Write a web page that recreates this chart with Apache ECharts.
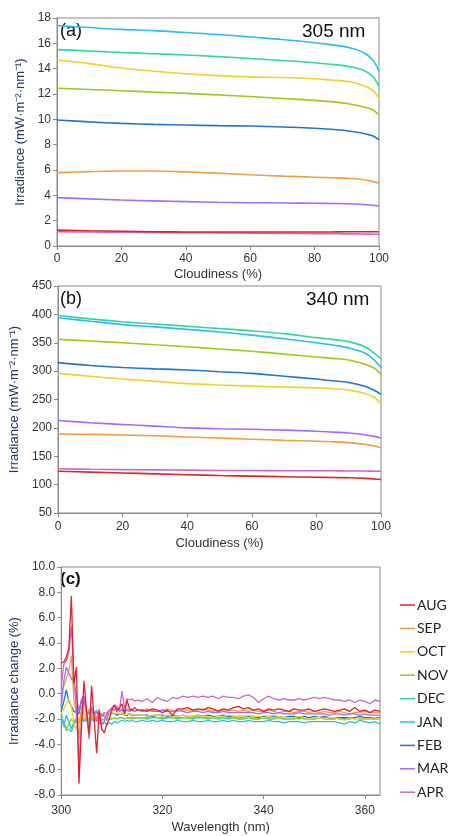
<!DOCTYPE html>
<html><head><meta charset="utf-8">
<script src="https://cdn.jsdelivr.net/npm/echarts@6/dist/echarts.min.js"></script>
<style>html,body{margin:0;padding:0;background:#fff}#c{width:449px;height:836px}</style>
</head><body><div id="c"></div>
<script>
// ---- Data ----
const months = ['AUG','SEP','OCT','NOV','DEC','JAN','FEB','MAR','APR'];
const colors = ['#e0202a','#f0a040','#f2d030','#99cc1a','#2ed6a0','#2ebcf0','#1e78c8','#a36bff','#cc66cc'];

const cloud = [0,10,20,30,40,50,60,70,80,85,90,95,98,100];

// Panel (a): 305 nm
const a_AUG = [1.25,1.2,1.16,1.13,1.11,1.1,1.1,1.1,1.11,1.11,1.12,1.12,1.13,1.13];
const a_SEP = [5.79,5.87,5.92,5.92,5.85,5.75,5.62,5.52,5.43,5.39,5.35,5.25,5.1,4.95];
const a_OCT = [14.68,14.4,14.05,13.8,13.6,13.45,13.35,13.3,13.2,13.1,13.0,12.7,12.3,11.65];
const a_NOV = [12.45,12.36,12.26,12.15,12.05,11.93,11.8,11.65,11.5,11.4,11.25,11.0,10.75,10.34];
const a_DEC = [15.5,15.4,15.28,15.18,15.08,14.95,14.8,14.65,14.47,14.35,14.2,13.9,13.4,12.6];
const a_JAN = [17.4,17.25,17.1,17.0,16.85,16.7,16.5,16.3,16.05,15.9,15.7,15.3,14.7,13.8];
const a_FEB = [9.95,9.8,9.68,9.6,9.55,9.5,9.47,9.4,9.3,9.22,9.1,8.9,8.7,8.37];
const a_MAR = [3.82,3.72,3.63,3.56,3.5,3.45,3.42,3.4,3.37,3.36,3.34,3.28,3.22,3.16];
const a_APR = [1.12,1.1,1.08,1.06,1.05,1.04,1.02,1.0,0.98,0.97,0.96,0.95,0.93,0.92];

// Panel (b): 340 nm
const b_AUG = [123.5,122,120.5,119,117.5,116,115,114,113,112.5,112,111,110,109];
const b_SEP = [189.5,188.5,187.5,186,184,182,180,178,176.5,175.5,174,171,168,165];
const b_OCT = [296,291,286,282,278,275.5,273.5,272,270.5,269,266.5,260.5,253.5,242];
const b_NOV = [356,353,350,346.5,343,339,335,330,325,322.5,319.5,312,305,294];
const b_DEC = [398,392,387,383,379,375,371,366,359,356,352,343,331,322];
const b_JAN = [394,388,382,378,373.5,369,363.5,357,350,346,341,332,319,306];
const b_FEB = [315,310,306.5,304,302,299,296,291,286,283,280,273.5,266,259];
const b_MAR = [213,209,206,203,200,198.5,197.5,196,194,192.5,191,188,185,182];
const b_APR = [128,127,126.5,126,125.5,125,125,124.5,124.5,124.5,124,124,123.5,123.5];

// Panel (c): irradiance change vs wavelength
const wl = [300,300.5,301,301.5,302,302.5,303,303.5,304,304.5,305,305.5,306,306.5,307,307.5,308,308.5,309,309.5,310,310.5,311,311.5,312,312.5,313,313.5,314,314.5,315,
316,317,318,319,320,321,322,323,324,325,326,327,328,329,330,331,332,333,334,335,336,337,338,339,340,341,342,343,344,345,346,347,348,349,350,351,352,353,354,355,356,357,358,359,360,361,362,363];

const c_AUG = [2.4,2.5,2.9,3.6,7.7,0.8,2.1,-7.1,-2.6,1.0,-1.4,-3.2,0.6,-2.0,-4.7,-1.4,-2.8,-3.1,-2.4,-2.0,-1.3,-0.9,-1.4,-1.1,-0.8,-1.6,-0.5,-1.2,-1.3,-1.1,-1.3,
-1.3,-1.4,-1.2,-1.3,-1.5,-1.3,-1.7,-1.2,-1.2,-1.1,
-1.3,-1.2,-1.3,-1.1,-1.2,-1.4,-1.2,-1.3,-1.1,-1.0,
-1.2,-1.1,-1.3,-1.2,-1.4,-1.2,-1.3,-1.2,-1.3,-1.4,
-1.2,-1.3,-1.3,-1.2,-1.4,-1.3,-1.2,-1.3,-1.4,-1.3,
-1.2,-1.4,-1.1,-1.4,-1.3,-1.5,-1.3,-1.4];
const c_SEP = [0.1,0.6,1.2,1.8,3.0,-0.6,-1.5,-3.6,-1.0,-1.6,-1.9,-1.2,-2.0,-1.5,-1.9,-1.4,-1.8,-1.6,-1.5,-1.3,-1.2,-1.3,-1.1,-1.3,-1.2,-1.4,-1.2,-1.3,-1.2,-1.4,-1.3,
-1.3,-1.2,-1.3,-1.4,-1.3,-1.2,-1.3,-1.4,-1.3,-1.3,
-1.4,-1.3,-1.2,-1.3,-1.4,-1.3,-1.3,-1.4,-1.3,-1.4,
-1.3,-1.4,-1.3,-1.4,-1.4,-1.3,-1.4,-1.5,-1.4,-1.4,
-1.5,-1.4,-1.4,-1.5,-1.4,-1.5,-1.4,-1.5,-1.5,-1.4,
-1.5,-1.6,-1.5,-1.5,-1.4,-1.5,-1.5,-1.5];
const c_OCT = [-1.6,-1.2,-0.8,-0.4,-1.0,-2.4,-2.8,-2.0,-1.4,-2.0,-1.6,-2.2,-1.8,-1.5,-2.0,-1.7,-1.6,-1.8,-1.5,-1.6,-1.4,-1.6,-1.5,-1.6,-1.5,-1.7,-1.6,-1.7,-1.6,-1.7,-1.7,
-1.7,-1.8,-1.7,-1.7,-1.8,-1.7,-1.8,-1.8,-1.7,-1.8,
-1.8,-1.7,-1.8,-1.8,-1.9,-1.8,-1.8,-1.7,-1.8,-1.8,
-1.8,-1.9,-1.8,-1.8,-1.9,-1.8,-1.9,-1.8,-1.9,-1.9,
-1.9,-1.8,-1.9,-2.0,-1.9,-1.9,-2.0,-1.9,-1.9,-2.0,
-2.1,-1.9,-2.0,-1.9,-2.0,-2.0,-1.9,-2.0];
const c_NOV = [-1.8,-2.2,-2.8,-2.4,-2.0,-2.3,-1.9,-2.1,-1.8,-2.0,-1.9,-2.1,-1.9,-2.0,-2.2,-1.9,-2.0,-2.1,-2.0,-1.9,-2.0,-1.9,-2.0,-1.9,-1.9,-2.0,-1.9,-1.9,-2.0,-1.9,-1.9,
-1.9,-1.9,-1.8,-1.9,-1.9,-1.9,-1.8,-1.9,-1.9,-1.9,
-1.9,-1.8,-1.9,-1.9,-1.9,-1.9,-1.8,-1.9,-1.9,-1.9,
-1.9,-1.9,-1.9,-2.0,-1.9,-1.9,-1.9,-1.9,-2.0,-1.9,
-1.9,-2.0,-1.9,-1.9,-2.0,-1.9,-1.9,-2.0,-1.9,-2.0,
-2.0,-1.9,-2.0,-1.9,-2.0,-2.0,-1.9,-2.0];
const c_DEC = [-2.0,-2.4,-2.9,-2.8,-3.0,-2.5,-2.1,-2.0,-1.8,-2.1,-2.0,-1.9,-2.1,-2.0,-2.0,-2.1,-2.1,-2.0,-2.1,-2.0,-2.0,-1.9,-2.0,-1.9,-1.9,-2.0,-1.9,-1.9,-1.9,-1.9,-1.9,
-1.9,-2.0,-1.9,-1.9,-2.0,-1.9,-1.9,-2.0,-1.9,-1.9,
-2.0,-1.9,-1.9,-2.0,-1.9,-2.0,-1.9,-2.0,-1.9,-2.0,
-2.0,-1.9,-2.0,-2.0,-1.9,-2.0,-2.0,-1.9,-2.0,-2.0,
-2.0,-1.9,-2.0,-2.0,-2.0,-1.9,-2.0,-2.0,-2.0,-1.9,
-2.0,-2.0,-1.9,-2.0,-2.0,-2.0,-2.0,-2.0];
const c_JAN = [-1.6,-2.6,-1.7,-2.2,-2.8,-2.2,-2.0,-2.3,-2.0,-2.2,-2.1,-2.3,-2.0,-2.2,-2.1,-2.3,-2.4,-2.2,-2.5,-2.3,-2.4,-2.2,-2.3,-2.2,-2.1,-2.2,-2.1,-2.2,-2.1,-2.2,-2.2,
-2.1,-2.2,-2.1,-2.2,-2.1,-2.2,-2.2,-2.1,-2.2,-2.2,
-2.1,-2.2,-2.2,-2.1,-2.2,-2.2,-2.1,-2.2,-2.1,-2.2,
-2.2,-2.1,-2.2,-2.2,-2.2,-2.1,-2.2,-2.2,-2.3,-2.2,
-2.2,-2.2,-2.3,-2.2,-2.2,-2.2,-2.2,-2.2,-2.2,-2.3,
-2.4,-2.2,-2.3,-2.1,-2.2,-2.3,-2.2,-2.4];
const c_FEB = [-1.4,-0.6,0.3,-0.6,-1.0,-1.4,-1.5,-1.6,-0.6,-0.5,-1.4,-1.6,-1.4,-1.6,-1.5,-1.6,-1.8,-1.5,-1.7,-1.6,-1.5,-1.6,-1.7,-1.6,-1.6,-1.7,-1.7,-1.6,-1.7,-1.7,-1.7,
-1.7,-1.7,-1.8,-1.7,-1.7,-1.8,-1.7,-1.8,-1.7,-1.8,
-1.8,-1.7,-1.8,-1.7,-1.8,-1.8,-1.7,-1.8,-1.8,-1.8,
-1.8,-1.8,-1.8,-1.9,-1.8,-1.8,-1.8,-1.8,-1.9,-1.8,
-1.8,-1.9,-1.8,-1.9,-1.8,-1.9,-1.8,-1.9,-1.9,-1.9,
-1.9,-1.9,-1.9,-1.8,-1.9,-1.9,-1.9,-1.9];
const c_MAR = [-1.0,1.0,2.1,1.6,1.2,1.0,-0.2,-1.4,-0.4,-0.2,-1.4,-1.6,-1.2,-1.5,-1.3,-2.0,-1.6,-1.8,-2.0,-1.4,-1.2,-1.3,-1.1,-1.4,-1.3,-1.5,-1.3,-1.4,-1.3,-1.4,-1.3,
-1.4,-1.3,-1.4,-1.4,-1.3,-1.4,-1.4,-1.3,-1.4,-1.5,
-1.4,-1.4,-1.5,-1.4,-1.5,-1.5,-1.4,-1.5,-1.5,-1.5,
-1.5,-1.5,-1.5,-1.6,-1.5,-1.5,-1.6,-1.5,-1.6,-1.6,
-1.6,-1.5,-1.6,-1.6,-1.6,-1.6,-1.6,-1.7,-1.6,-1.6,
-1.7,-1.6,-1.6,-1.7,-1.6,-1.7,-1.7,-1.7];
const c_APR = [0.6,2.3,2.6,3.2,5.3,1.2,-1.4,-5.8,-2.2,-0.3,-1.6,-3.6,-1.0,-1.8,-2.1,-1.2,-2.5,-2.2,-1.6,-1.3,-1.1,-0.9,-1.0,-1.3,0.2,-1.2,-0.4,-0.5,-0.4,-0.6,-0.5,
-0.6,-0.4,-0.7,-0.3,-0.5,-0.6,-0.3,-0.4,-0.2,-0.3,
-0.2,-0.3,-0.2,-0.3,-0.2,-0.4,-0.2,-0.3,-0.3,-0.4,
-0.2,-0.1,-0.3,-0.7,-0.4,-0.2,-0.4,-0.5,-0.4,-0.5,
-0.5,-0.4,-0.5,-0.4,-0.3,-0.4,-0.3,-0.4,-0.5,-0.5,
-0.6,-0.5,-0.7,-0.5,-0.6,-0.8,-0.5,-0.6];

const aTicks = {min:0, max:18, interval:2};
const bTicks = {min:50, max:450, interval:50};
const cTicks = {min:-8, max:10, interval:2};

// ---- Chart ----
const A = [a_AUG,a_SEP,a_OCT,a_NOV,a_DEC,a_JAN,a_FEB,a_MAR,a_APR];
const B = [b_AUG,b_SEP,b_OCT,b_NOV,b_DEC,b_JAN,b_FEB,b_MAR,b_APR];
const C = [c_AUG,c_SEP,c_OCT,c_NOV,c_DEC,c_JAN,c_FEB,c_MAR,c_APR];

const FONT = 'Liberation Sans';
const axisGray = '#8a8a8a';
const navy = '#1f3864';

function xAx(gi, min, max, interval, name, gap, margin, extra) {
  return Object.assign({
    type:'value', gridIndex:gi, min, max, interval,
    name, nameLocation:'middle', nameGap:gap,
    nameTextStyle:{fontFamily:FONT, fontSize:13, color:'#333'},
    axisLine:{show:true, onZero:false, lineStyle:{color:axisGray}},
    axisTick:{show:true, inside:false, length:4, lineStyle:{color:axisGray}},
    axisLabel:{fontFamily:FONT, fontSize:12, color:'#333', margin},
    splitLine:{show:false}
  }, extra||{});
}
function yAx(gi, t, name, gap, fmt) {
  return {
    type:'value', gridIndex:gi, min:t.min, max:t.max, interval:t.interval,
    name, nameLocation:'middle', nameGap:gap,
    nameTextStyle:{fontFamily:FONT, fontSize:13, color:navy},
    axisLine:{show:true, onZero:false, lineStyle:{color:axisGray}},
    axisTick:{show:true, inside:false, length:4, lineStyle:{color:axisGray}},
    axisLabel:{fontFamily:FONT, fontSize:12, color:'#333', margin:6, formatter:fmt},
    splitLine:{show:false}
  };
}

const series = [];
months.forEach((m,i)=>{
  series.push({name:m, type:'line', xAxisIndex:0, yAxisIndex:0, smooth:0.35, symbol:'none',
    data: cloud.map((x,k)=>[x, A[i][k]]), lineStyle:{width:1.6, color:colors[i]}, itemStyle:{color:colors[i]}, z: i===0?3:2});
  series.push({name:m, type:'line', xAxisIndex:1, yAxisIndex:1, smooth:0.35, symbol:'none',
    data: cloud.map((x,k)=>[x, B[i][k]]), lineStyle:{width:1.6, color:colors[i]}, itemStyle:{color:colors[i]}});
});
// panel (c) drawn in an order that keeps AUG and APR on top
const cOrder = [4,3,5,6,2,1,7,8,0];
cOrder.forEach(i=>{
  series.push({name:months[i], type:'line', xAxisIndex:2, yAxisIndex:2, symbol:'none',
    data: wl.map((x,k)=>[x, C[i][k]]), lineStyle:{width:1.3, color:colors[i]}, itemStyle:{color:colors[i]}});
});

const chart = echarts.init(document.getElementById('c'), null, {renderer:'canvas'});
chart.setOption({
  backgroundColor:'#fff',
  animation:false,
  grid:[
    {left:57, top:18, width:322, height:228, show:true, borderColor:axisGray, borderWidth:1},
    {left:58, top:286, width:323, height:227, show:true, borderColor:axisGray, borderWidth:1},
    {left:58, top:567, width:322, height:228, show:true, borderColor:axisGray, borderWidth:1}
  ],
  xAxis:[
    xAx(0,0,100,20,'Cloudiness (%)',22,7),
    xAx(1,0,100,20,'Cloudiness (%)',24,8),
    xAx(2,300,363,20,'Wavelength (nm)',26,10,{})
  ],
  yAxis:[
    yAx(0,aTicks,'Irradiance (mW·m⁻²·nm⁻¹)',28),
    yAx(1,bTicks,'Irradiance (mW·m⁻²·nm⁻¹)',33),
    yAx(2,cTicks,'Irradiance change (%)',33, v=>v.toFixed(1))
  ],
  legend:{
    orient:'vertical', left:395, top:592, data:months,
    icon:'rect', itemWidth:15, itemHeight:1.5, itemGap:7.4,
    textStyle:{fontFamily:'Lato', fontSize:14, color:'#222', lineHeight:16, padding:[0,0,0,-3]},
    selectedMode:false
  },
  graphic:[
    {type:'text', left:60, top:22, style:{text:'(a)', font:'18px "Liberation Sans"', fill:'#111'}},
    {type:'text', left:302, top:22, style:{text:'305 nm', font:'19px "Liberation Sans"', fill:'#111'}},
    {type:'text', left:60, top:290, style:{text:'(b)', font:'18px "Liberation Sans"', fill:'#111'}},
    {type:'text', left:306, top:290, style:{text:'340 nm', font:'19px "Liberation Sans"', fill:'#111'}},
    {type:'text', left:60, top:571, style:{text:'(c)', font:'bold 17px "Liberation Sans"', fill:'#111'}}
  ],
  series
});
</script></body></html>
